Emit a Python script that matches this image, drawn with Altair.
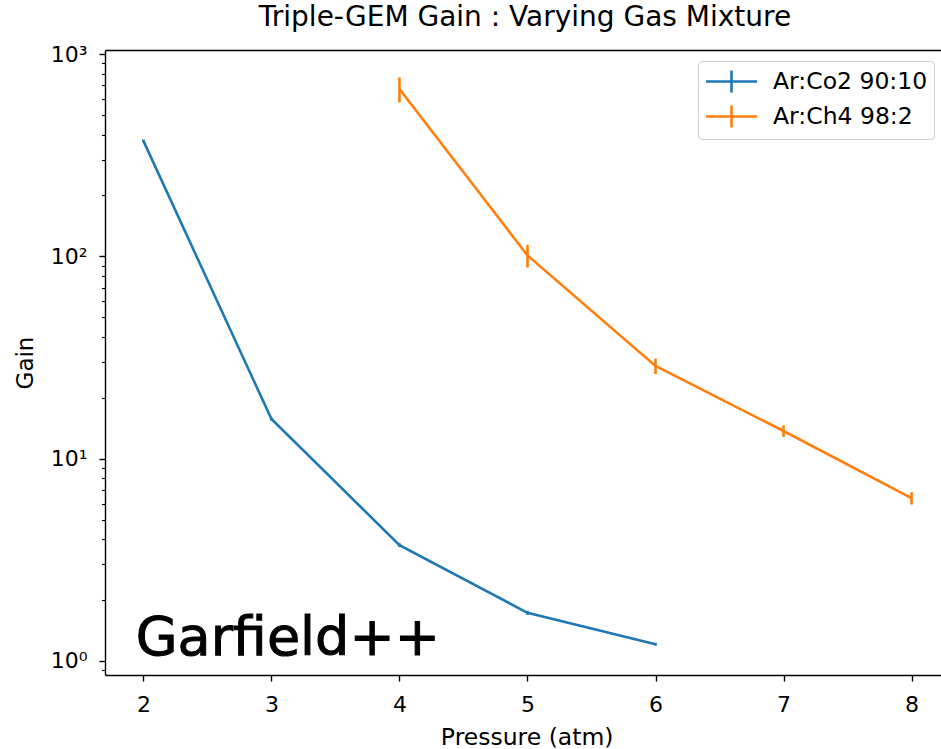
import altair as alt
import pandas as pd

# ---- data ----
series_names = ["Ar:Co2 90:10", "Ar:Ch4 98:2"]
series_colors = ["#1f77b4", "#ff7f0e"]

pressure_co2 = [2, 3, 4, 5, 6]
gain_co2 = [372, 15.7, 3.74, 1.73, 1.21]
err_co2 = [6, 0.3, 0.08, 0.04, 0.02]

pressure_ch4 = [4, 5, 6, 7, 8]
gain_ch4 = [671, 101, 28.7, 13.7, 6.38]
err_ch4 = [95, 13, 2.5, 0.9, 0.45]

x_ticks = [2, 3, 4, 5, 6, 7, 8]
y_major = [1, 10, 100, 1000]
y_minor = [0.9] + [m * d for d in (1, 10, 100) for m in range(2, 10)]

logo_text = ["Garfield++"]
logo_x = [1.94]
logo_y = [1.071]

rows = []
for name, xs, ys, es in [(series_names[0], pressure_co2, gain_co2, err_co2),
                         (series_names[1], pressure_ch4, gain_ch4, err_ch4)]:
    for x, y, e in zip(xs, ys, es):
        rows.append({"series": name, "pressure": x, "gain": y,
                     "lo": y - e, "hi": y + e})
df = pd.DataFrame(rows)
logo_df = pd.DataFrame({"x": logo_x, "y": logo_y, "label": logo_text})

FONT = "DejaVu Sans"

xscale = alt.Scale(domain=[1.7, 8.23], nice=False, zero=False)
yscale = alt.Scale(type="log", domain=[0.8527, 1046.6], nice=False)

major_test = "datum.value == 1 || datum.value == 10 || datum.value == 100 || datum.value == 1000"

yaxis = alt.Axis(
    title="Gain",
    values=sorted(y_major + y_minor),
    labelExpr="datum.value == 1 ? '10⁰' : datum.value == 10 ? '10¹' : datum.value == 100 ? '10²' : datum.value == 1000 ? '10³' : ''",
    labelOverlap=False,
    labelFontSize=22,
    labelFont=FONT,
    labelColor="black",
    labelPadding=12,
    tickSize={"condition": {"test": major_test, "value": 6}, "value": 3.5},
    tickWidth={"condition": {"test": major_test, "value": 1.4}, "value": 1.1},
    tickColor="black",
    domainColor="black",
    domainWidth=1.4,
    grid=False,
    titleFontSize=23,
    titleFont=FONT,
    titleFontWeight="normal",
    titleColor="black",
    titleAngle=270,
    titleX=-73,
    titleBaseline="alphabetic",
    titleAlign="center",
)

xaxis_bottom = alt.Axis(
    title="Pressure (atm)",
    values=x_ticks,
    format="d",
    labelFontSize=22,
    labelFont=FONT,
    labelColor="black",
    labelBaseline="alphabetic",
    labelPadding=30,
    tickSize=6,
    tickWidth=1.4,
    tickColor="black",
    domainColor="black",
    domainWidth=1.4,
    grid=False,
    titleFontSize=23.5,
    titleFont=FONT,
    titleFontWeight="normal",
    titleColor="black",
    titleX=421.7,
    titleY=69,
    titleBaseline="alphabetic",
)

xaxis_top = alt.Axis(
    orient="top", title=None, labels=False, ticks=False, grid=False,
    domain=True, domainColor="black", domainWidth=1.4,
)

color = alt.Color(
    "series:N",
    scale=alt.Scale(domain=series_names, range=series_colors),
    sort=series_names,
    legend=alt.Legend(
        title=None,
        orient="none",
        legendX=593,
        legendY=11,
        symbolType="M-2,0L2,0M0,-0.86L0,0.86",
        symbolSize=650,
        symbolStrokeWidth=2.6,
        symbolFillColor="transparent",
        symbolOffset=13,
        labelFontSize=23.5,
        labelFont=FONT,
        labelColor="black",
        labelOffset=27,
        rowPadding=2,
        padding=6,
        offset=0,
        strokeColor="#cccccc",
        fillColor="white",
        cornerRadius=4,
    ),
)

lines = alt.Chart(df).mark_line(strokeWidth=2.6).encode(
    x=alt.X("pressure:Q", scale=xscale, axis=xaxis_bottom),
    y=alt.Y("gain:Q", scale=yscale, axis=yaxis),
    color=color,
    order="pressure:Q",
)

errbars = alt.Chart(df).mark_rule(strokeWidth=2.6).encode(
    x=alt.X("pressure:Q", scale=xscale, axis=xaxis_top),
    y=alt.Y("lo:Q", scale=yscale, axis=yaxis),
    y2="hi:Q",
    color=alt.Color("series:N",
                    scale=alt.Scale(domain=series_names, range=series_colors),
                    legend=None),
)

logo = alt.Chart(logo_df).mark_text(
    font=FONT, fontSize=54, fontWeight="normal", align="left",
    baseline="alphabetic", color="black", stroke="black", strokeWidth=1,
).encode(
    x=alt.X("x:Q", scale=xscale, axis=None),
    y=alt.Y("y:Q", scale=yscale, axis=yaxis),
    text="label:N",
)

chart = alt.layer(lines, errbars, logo).resolve_axis(x="independent").properties(
    width=836,
    height=625,
    autosize=alt.AutoSizeParams(type="none"),
    padding={"left": 105, "top": 50, "right": 0, "bottom": 74},
    title=alt.TitleParams(
        text="Triple-GEM Gain : Varying Gas Mixture",
        font=FONT, fontSize=28, fontWeight="normal", color="black",
        anchor="middle", frame="group", dx=2, dy=33, offset=22, baseline="alphabetic",
    ),
).configure_view(stroke=None).configure(background="white")

chart.save("out.html", embed_options={"renderer": "svg", "actions": False})
